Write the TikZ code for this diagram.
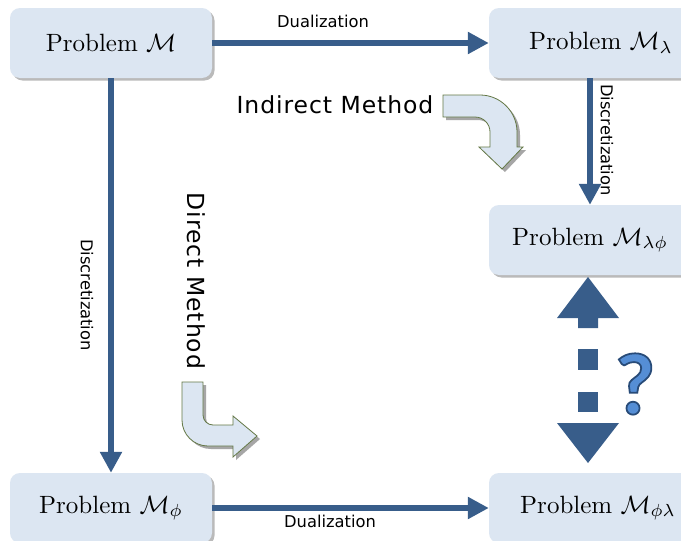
\documentclass[tikz,border=0pt]{standalone}
\usepackage{graphicx}
\usepackage{fontspec}
\usetikzlibrary{arrows.meta,shadows}
\newfontfamily\lblfont{DejaVu Sans}
\newfontfamily\methfont{DejaVu Sans}[LetterSpace=4]
\newfontfamily\qfont{Carlito Bold}[FakeBold=2]
\definecolor{boxfill}{RGB}{220,230,242}
\definecolor{arrowblue}{RGB}{56,93,138}
\definecolor{curvefill}{RGB}{220,230,242}
\definecolor{curveedge}{RGB}{100,120,70}
\definecolor{qfill}{RGB}{85,142,213}
\definecolor{qedge}{RGB}{40,75,120}
\newcommand\BigTxt[1]{\scalebox{2.5}{#1}}
\tikzset{
  probbox/.style={fill=boxfill, rounded corners=10pt, minimum width=202pt,
    minimum height=70pt, inner sep=0pt,
    drop shadow={shadow xshift=2.5pt, shadow yshift=-2.5pt, opacity=0.45, fill=black!60}},
  conn/.style={draw=arrowblue, line width=6pt, -{Triangle[length=21pt,width=21pt]}, color=arrowblue},
  lbl/.style={font=\lblfont\fontsize{16.3}{19}\selectfont, inner sep=0pt},
  meth/.style={font=\methfont\fontsize{23.5}{27}\selectfont, inner sep=0pt},
  curvearrow/.style={fill=curvefill, draw=curveedge, line width=0.8pt, line join=miter},
  curveshadow/.style={fill=black!35},
  dblpart/.style={fill=arrowblue}
}
\newcommand\IndArrowPath{(443,95) -- (480,95) .. controls (500.4,95) and (517,111.6) .. (517,132) -- (517,147) -- (523,147) -- (502,169) -- (479,147) -- (490,147) -- (490,132) .. controls (490,123.7) and (483.3,117) .. (475,117) -- (443,117) -- cycle}
\newcommand\DirArrowPath{(182,382) -- (203,382) -- (203,415) .. controls (203,420.5) and (207.5,425) .. (213,425) -- (233,425) -- (233,416) -- (257,436) -- (233,457) -- (233,446) -- (208,446) .. controls (193.6,446) and (182,434.4) .. (182,420) -- cycle}
\begin{document}
\begin{tikzpicture}[x=1pt,y=-1pt]
\useasboundingbox (0,0) rectangle (681,541);
\clip (0,0) rectangle (681,541);
\fill[white] (0,0) rectangle (681,541);

% boxes
\node[probbox] (M) at (111,43) {\BigTxt{Problem $\mathcal{M}$}};
\node[probbox] (Ml) at (590,43) {\hspace{22pt}\BigTxt{Problem $\mathcal{M}_\lambda$}};
\node[probbox] (Mlp) at (590,240) {\BigTxt{Problem $\mathcal{M}_{\lambda\phi}$}};
\node[probbox] (Mp) at (111,508) {\BigTxt{Problem $\mathcal{M}_\phi$}};
\node[probbox] (Mpl) at (590,508) {\hspace{16pt}\raisebox{6pt}{\BigTxt{Problem $\mathcal{M}_{\phi\lambda}$}}};

% connectors
\draw[conn] (M.east) -- (Ml.west);
\draw[conn] (M.south) -- (Mp.north);
\draw[conn] (Ml.south) -- (Mlp.north);
\draw[conn] (Mp.east) -- (Mpl.west);

% labels
\node[lbl] (lduTop) at (323,21) {Dualization};
\node[lbl] (lduBot) at (330,521) {Dualization};
\node[lbl, rotate=-90] (ldiL) at (87,295) {Discretization};
\node[lbl, rotate=-90] (ldiR) at (607,140) {Discretization};

% methods
\node[meth] (indm) at (335,105) {Indirect Method};
\node[meth, rotate=-90] (dirm) at (196,281) {Direct Method};

% curved arrows
\path[curveshadow, shift={(3,3)}] \IndArrowPath;
\path[curvearrow] \IndArrowPath;
\path[curveshadow, shift={(3,3)}] \DirArrowPath;
\path[curvearrow] \DirArrowPath;

% double dashed arrow
\fill[dblpart] (588,277) -- (619,318) -- (598,318) -- (598,328) -- (578,328) -- (578,318) -- (557,318) -- cycle;
\fill[dblpart] (578,349) rectangle (598,370);
\fill[dblpart] (578,392) rectangle (598,412);
\fill[dblpart] (557,423) -- (619,423) -- (588,463) -- cycle;

% question mark
\node[font=\qfont\fontsize{88}{88}\selectfont, text=qedge, inner sep=0pt] (qm) at (635,384) {\special{pdf:code 0.333 0.557 0.835 rg}?};
\end{tikzpicture}
\end{document}
